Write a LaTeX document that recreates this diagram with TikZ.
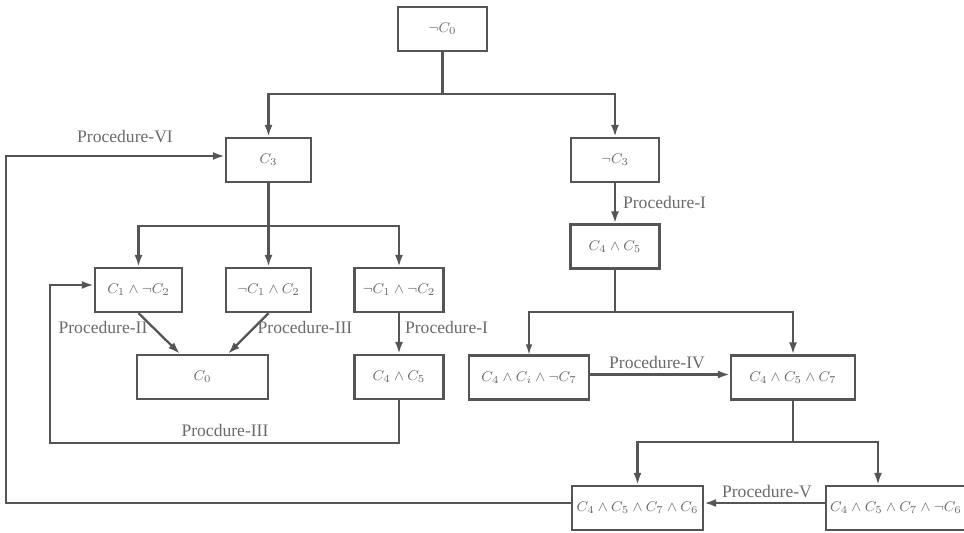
\documentclass[tikz,border=0pt]{standalone}
\usepackage[no-math]{fontspec}
\setmainfont{Liberation Serif}
\usetikzlibrary{arrows.meta,positioning,calc}
\definecolor{lineGray}{HTML}{555555}
\definecolor{textGray}{HTML}{6A6A6A}
\tikzset{
  arr/.style={-{Latex[length=2.4mm,width=1.6mm]}, line width=1.3pt, lineGray},
  thinarr/.style={-{Latex[length=2mm,width=1.3mm]}, line width=0.6pt, lineGray},
  ln/.style={line width=1.3pt, lineGray},
  cond/.style={draw=lineGray, line width=1.3pt, minimum width=#1, minimum height=0.88cm,
    inner sep=2pt, text=textGray, font=\fontsize{8.4}{10}\selectfont},
  cond/.default=1.75cm,
  proc/.style={font=\normalsize, text=textGray, inner sep=1pt}
}

\begin{document}
\begin{tikzpicture}[x=0.02cm,y=-0.02cm]
  \useasboundingbox (0,0) rectangle (964,532);
  % condition boxes
  \node[cond=1.78cm] (root) at (442.5,29) {$\neg C_0$};
  \node[cond=1.70cm] (c3) at (268.5,160) {$C_3$};
  \node[cond=1.76cm] (nc3) at (615,160) {$\neg C_3$};
  \node[cond=1.74cm] (a1) at (138.5,290) {$C_1\wedge\neg C_2$};
  \node[cond=1.70cm] (a2) at (268.5,290) {$\neg C_1\wedge C_2$};
  \node[cond=1.78cm] (a3) at (399,290) {$\neg C_1\wedge\neg C_2$};
  \node[cond=2.62cm] (c0) at (202.5,377) {$C_0$};
  \node[cond=1.78cm] (l45) at (399,377) {$C_4\wedge C_5$};
  \node[cond=1.78cm] (r45) at (615,246.5) {$C_4\wedge C_5$};
  \node[cond=2.40cm] (b1) at (529,377.5) {$C_4\wedge C_i\wedge\neg C_7$};
  \node[cond=2.48cm] (b2) at (793,377.5) {$C_4\wedge C_5\wedge C_7$};
  \node[cond=2.62cm] (d1) at (637.5,508) {$C_4\wedge C_5\wedge C_7\wedge C_6$};
  \node[cond=2.80cm] (d2) at (896,508) {$C_4\wedge C_5\wedge C_7\wedge\neg C_6$};

  % junctions
  \coordinate (j0) at (442.5,94);
  \coordinate (j3) at (268.5,226);
  \coordinate (j45) at (615,312);
  \coordinate (j7) at (793,442);
  \coordinate (outer) at (6,300);
  \coordinate (lowL) at (50,443);

  % tree
  \draw[ln] (root.south) -- (j0);
  \draw[arr] (j0) -| (c3.north);
  \draw[arr] (j0) -| (nc3.north);
  \draw[ln] (c3.south) -- (j3);
  \draw[arr] (j3) -| (a1.north);
  \draw[arr] (j3) -- (a2.north);
  \draw[arr] (j3) -| (a3.north);
  \draw[arr] (a1.south) -- ($(c0.north)+(-22.5,0)$);
  \draw[arr] (a2.south) -- ($(c0.north)+(25.5,0)$);
  \draw[arr] (a3.south) -- (l45.north);
  \draw[arr] (l45.south) |- (lowL) |- ($(a1.west)+(0,-5)$);
  \draw[arr] ($(d1.west)+(0,-5)$) -| (outer) |- ($(c3.west)+(0,-4)$);

  \draw[arr] (nc3.south) -- (r45.north);
  \draw[ln] (r45.south) -- (j45);
  \draw[thinarr] (j45) -| (b1.north);
  \draw[arr] (j45) -| (b2.north);
  \draw[arr] ($(b1.east)+(0,-3)$) -- ($(b2.west)+(0,-3)$);
  \draw[ln] (b2.south) -- (j7);
  \draw[arr] (j7) -| (d1.north);
  \draw[arr] (j7) -| ($(d2.north)+(-18,0)$);
  \draw[arr] ($(d2.west)+(0,-5)$) -- ($(d1.east)+(0,-5)$);

  % procedure labels
  \node[proc] (pVI) at (125,137) {Procedure-VI};
  \node[proc] (pII) at (103,327) {Procedure-II};
  \node[proc] (pIIIa) at (305,327) {Procedure-III};
  \node[proc, anchor=west] (pIa) at (403,327) {Procedure-I};
  \node[proc] (pIIIb) at (225,430) {Procdure-III};
  \node[proc, anchor=west] (pIb) at (621,202) {Procedure-I};
  \node[proc] (pIV) at (657,363) {Procedure-IV};
  \node[proc] (pV) at (767,492) {Procedure-V};
\end{tikzpicture}
\end{document}
